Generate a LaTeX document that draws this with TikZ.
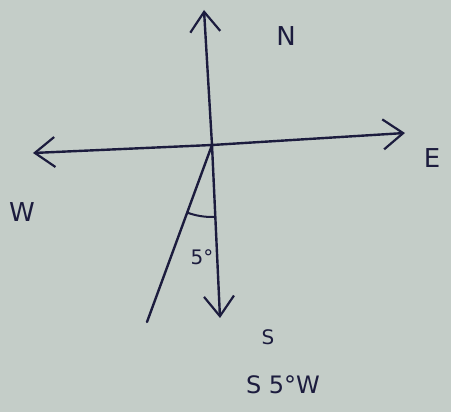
\documentclass[tikz,border=0pt]{standalone}
\usepackage{fontspec}
\setmainfont{DejaVu Sans}
\usetikzlibrary{arrows.meta}
\definecolor{paper}{RGB}{196,205,200}
\definecolor{ink}{RGB}{28,28,62}
\begin{document}
\begin{tikzpicture}[x=1pt,y=-1pt,
  ln/.style={draw=ink,line width=2.4pt,line cap=round},
  tip/.style={-{Straight Barb[length=20pt,width=30pt,line width=2.2pt]}},
  lbl/.style={text=ink,font=\fontsize{26}{26}\selectfont,inner sep=0pt}]
\fill[paper] (0,0) rectangle (451,412);
\useasboundingbox (0,0) rectangle (451,412);
\coordinate (O) at (212,145);
\coordinate (Ntop) at (204,10);
\coordinate (Sbot) at (220,318);
\coordinate (Wend) at (33,153);
\coordinate (Eend) at (405,133);
\coordinate (SW) at (147,322);
\draw[ln,tip] (O) -- (Ntop);
\draw[ln,tip] (O) -- (Sbot);
\draw[ln,tip] (O) -- (Wend);
\draw[ln,tip] (O) -- (Eend);
\draw[ln] (O) -- (SW);
\draw[ln,line width=2pt] (O) ++(110:72) arc[start angle=110,end angle=88,radius=72];
\node[lbl] (n) at (286,36) {N};
\node[lbl] (w) at (22,212) {W};
\node[lbl] (e) at (432,158) {E};
\node[lbl,font=\fontsize{20}{20}\selectfont] (a) at (202,257) {5°};
\node[lbl,font=\fontsize{20}{20}\selectfont] (s) at (268,337) {S};
\node[lbl,font=\fontsize{24}{24}\selectfont] (sw) at (283,385) {S 5°W};
\end{tikzpicture}
\end{document}
